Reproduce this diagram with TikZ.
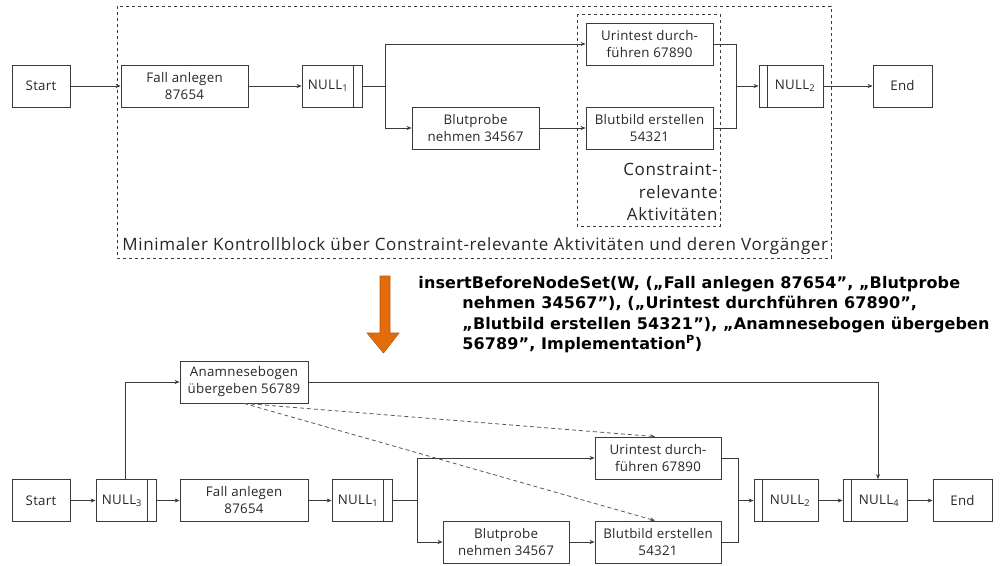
\documentclass[tikz,border=0pt]{standalone}
\usepackage{fontspec}
\setmainfont{Open Sans}
\newfontfamily\cmdfont{DejaVu Sans}
\usetikzlibrary{arrows.meta}
\definecolor{ln}{HTML}{3A3A3A}
\definecolor{arrowfill}{HTML}{E46C0A}
\definecolor{arrowline}{HTML}{B65708}

\begin{document}
\begin{tikzpicture}[x=1pt,y=-1pt,line width=0.8pt,
  every node/.style={inner sep=0pt},
  act/.style={draw=ln, minimum height=42pt, align=center,
    font=\fontsize{13.3}{17}\selectfont\addfontfeature{LetterSpace=2}, text=black!85},
  flow/.style={draw=ln, -{Stealth[length=5pt,width=4pt]}},
  link/.style={draw=ln},
  frame/.style={draw=ln, dashed, line width=0.7pt},
  depend/.style={draw=ln!85, dash pattern=on 4pt off 3pt, -{Stealth[length=5pt,width=4pt]}},
  note/.style={font=\fontsize{17}{22.5}\selectfont\addfontfeature{LetterSpace=3.8}, text=black!85}
]
\useasboundingbox (0,0) rectangle (1006,565);

% ---------- upper process ----------
\draw[frame] (117,6) rectangle (831,258);
\draw[frame] (577,14) rectangle (720,226);

\node[act, minimum width=58pt]  (s1) at (41,86)    {Start};
\node[act, minimum width=127pt] (f1) at (184.5,86) {Fall anlegen\\87654};
\node[act, minimum width=60pt]  (n1) at (332,86)   {NULL\textsubscript{1}\hspace{8pt}};
\node[act, minimum width=127pt] (u1) at (649.5,44) {Urintest durch-\\führen 67890};
\node[act, minimum width=127pt] (b1) at (475.5,128) {Blutprobe\\nehmen 34567};
\node[act, minimum width=127pt] (bb1) at (649.5,128) {Blutbild erstellen\\54321};
\node[act, minimum width=64pt]  (n2) at (791,86)   {\hspace{8pt}NULL\textsubscript{2}};
\node[act, minimum width=59pt]  (e1) at (902.5,86) {End};

\draw[link] ([xshift=-9pt]n1.north east) -- ([xshift=-9pt]n1.south east);
\draw[link] ([xshift=9pt]n2.north west) -- ([xshift=9pt]n2.south west);

\node[note, align=right, anchor=north east] (cr) at (718,163)
  {Constraint-\\relevante\\Aktivitäten};
\node[note, anchor=west] (cap) at (122,246)
  {Minimaler Kontrollblock über Constraint-relevante Aktivitäten und deren Vorgänger};

\coordinate (j1) at (385,86);
\coordinate (k1) at (736,86);
\draw[flow] (s1) -- (f1);
\draw[flow] (f1) -- (n1);
\draw[link] (n1.east) -- (j1);
\draw[flow] (j1) |- (u1.west);
\draw[flow] (j1) |- (b1.west);
\draw[flow] (b1) -- (bb1);
\draw[link] (u1.east) -| (k1);
\draw[link] (bb1.east) -| (k1);
\draw[flow] (k1) -- (n2);
\draw[flow] (n2) -- (e1);

% ---------- transformation ----------
\draw[arrowline, fill=arrowfill, line width=0.6pt]
  (380,276) -- (390,276) -- (390,333) -- (399,333) -- (383.5,353)
  -- (367,333) -- (380,333) -- cycle;

\node[anchor=north west, align=left, text=black,
  font=\cmdfont\bfseries\fontsize{16}{20.4}\selectfont\addfontfeature{LetterSpace=0.8}] (op) at (418,276)
  {insertBeforeNodeSet(W, („Fall anlegen 87654”, „Blutprobe\\
   \hspace*{44pt}nehmen 34567”), („Urintest durchführen 67890”,\\
   \hspace*{44pt}„Blutbild erstellen 54321”), „Anamnesebogen übergeben\\
   \hspace*{44pt}56789”, Implementation\textsuperscript{P})};

% ---------- lower process ----------
\node[act, minimum width=58pt]  (s2) at (41,500.5)   {Start};
\node[act, minimum width=60pt]  (n3) at (126,500.5)  {NULL\textsubscript{3}\hspace{8pt}};
\node[act, minimum width=128pt] (a2) at (244,382)    {Anamnesebogen\\übergeben 56789};
\node[act, minimum width=128pt] (f2) at (244,500.5)  {Fall anlegen\\87654};
\node[act, minimum width=60pt]  (m1) at (362,500.5)  {NULL\textsubscript{1}\hspace{8pt}};
\node[act, minimum width=126pt] (u2) at (658,458)    {Urintest durch-\\führen 67890};
\node[act, minimum width=126pt] (b2) at (506,542)    {Blutprobe\\nehmen 34567};
\node[act, minimum width=126pt] (bb2) at (658,542)   {Blutbild erstellen\\54321};
\node[act, minimum width=64pt]  (m2) at (786,500.5)  {\hspace{8pt}NULL\textsubscript{2}};
\node[act, minimum width=64pt]  (n4) at (875,500.5)  {\hspace{8pt}NULL\textsubscript{4}};
\node[act, minimum width=59pt]  (e2) at (962.5,500.5) {End};

\draw[link] ([xshift=-9pt]n3.north east) -- ([xshift=-9pt]n3.south east);
\draw[link] ([xshift=-9pt]m1.north east) -- ([xshift=-9pt]m1.south east);
\draw[link] ([xshift=9pt]m2.north west) -- ([xshift=9pt]m2.south west);
\draw[link] ([xshift=9pt]n4.north west) -- ([xshift=9pt]n4.south west);

\coordinate (j2) at (417,500.5);
\coordinate (k2) at (738,500.5);
\draw[flow] (s2) -- (n3);
\draw[flow] (n3) -- (f2);
\draw[flow] (f2) -- (m1);
\draw[flow] ([xshift=-1pt]n3.north) |- (a2.west);
\draw[flow] (a2.east) -| ([xshift=3pt]n4.north);
\draw[link] (m1.east) -- (j2);
\draw[flow] (j2) |- (u2.west);
\draw[flow] (j2) |- (b2.west);
\draw[flow] (b2) -- (bb2);
\draw[link] (u2.east) -| (k2);
\draw[link] (bb2.east) -| (k2);
\draw[flow] (k2) -- (m2);
\draw[flow] (m2) -- (n4);
\draw[flow] (n4) -- (e2);

\draw[depend] (a2.south) -- ([xshift=-3pt]u2.north);
\draw[depend] (a2.south) -- ([xshift=-3pt]bb2.north);
\end{tikzpicture}
\end{document}
